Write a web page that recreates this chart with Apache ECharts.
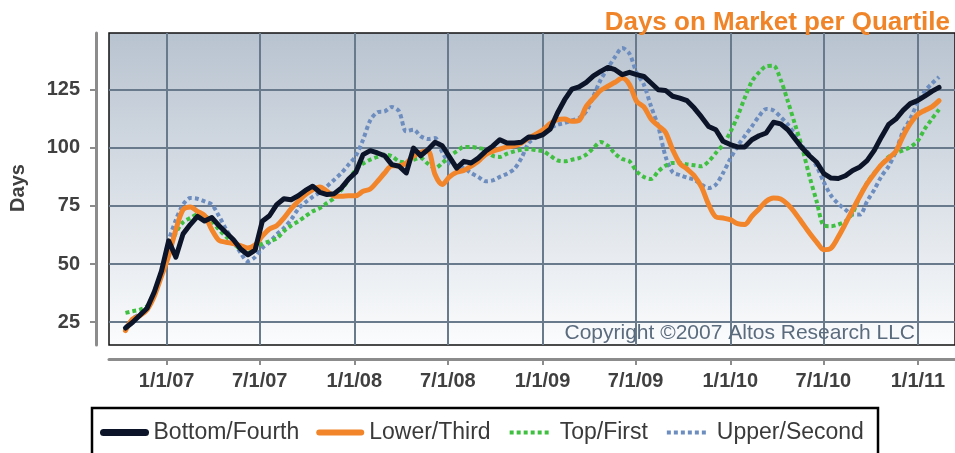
<!DOCTYPE html>
<html>
<head>
<meta charset="utf-8">
<script src="https://cdn.jsdelivr.net/npm/echarts@6/dist/echarts.min.js"></script>
<style>
html,body{margin:0;padding:0;background:#fff;}
#chart{width:955px;height:453px;}
</style>
</head>
<body>
<div id="chart"></div>
<script>
// ---- data (samples every 14 days starting 2006-10-13) ----
const seriesNames = ['Bottom/Fourth', 'Lower/Third', 'Top/First', 'Upper/Second'];
const startDate = '2006-10-13';
const stepDays = 14;

const bottomFourth = [22.5,25,28,31,38,47,60,53,63,67,70.5,68.5,70,66.5,63.5,60.5,56.5,54,56,68.4,
70.8,75.6,78.1,77.7,79.4,81.7,83.5,80.9,79.9,80.3,82.8,86.6,89.5,97.1,98.8,97.8,96.6,92.8,92.1,89.2,
99.9,96.6,99.2,102.4,100.9,96.1,91.3,94.2,93.5,95.6,98.5,100.7,103.5,102.1,102.1,102.4,104.7,104.6,105.7,108.1,
115.0,120.7,125.3,126.2,128.2,131.0,132.9,134.6,133.6,131.5,132.5,131.5,130.7,127.9,125.0,124.7,122.2,121.4,120.3,117.1,
113.3,109.2,107.8,102.8,101.4,100.4,100.4,103.5,105.2,106.4,111.0,110.3,107.8,103.8,99.9,96.6,93.8,88.9,87.0,86.8,
88.0,90.3,91.8,94.5,98.9,104.7,110.0,112.4,116.1,119.0,120.3,122.2,124.3,126];

const lowerThird = [21.4,26.4,27.8,30.4,36.2,44.8,53.6,64.8,73.4,74.6,72.7,70.9,64.8,60.2,59.4,58.8,57.9,56.9,58.2,62.0,
65.1,66.5,69.8,73.7,77.0,79.9,82.0,83.2,81.3,79.2,79.2,79.4,79.4,81.3,82.3,85.6,89.2,92.3,92.3,93.5,
96.4,98.1,98.8,88.5,84.2,87.5,89.5,90.3,92.1,94.2,97.1,98.5,99.5,100.4,100.9,102.1,104.2,105.9,107.8,110.4,
112.1,112.4,111.4,111.8,117.8,121.4,124.7,126.5,128.2,130.0,127.2,120.0,117.6,112.4,109.5,106.7,99.2,93.3,90.9,88.0,
83.2,75.6,70.3,69.8,69.1,67.4,67.0,70.6,73.7,77.0,78.4,78.0,75.6,72.0,67.7,63.4,59.5,56.2,56.9,61.7,
67.4,73.4,79.2,84.6,88.9,92.8,95.6,98.5,105.0,110.4,114.3,116.1,117.6,120.3];

const topFirst = [29.0,29.7,30.4,31.9,36.9,45.5,55.5,63.4,68.0,69.8,71.3,70.8,68.4,64.8,61.7,59.1,56.2,54.8,56.5,58.8,
59.8,61.0,64.1,66.5,68.4,70.6,72.7,74.1,76.3,78.4,82.0,86.3,90.6,93.2,94.9,96.1,97.1,96.4,94.2,93.8,
94.9,95.6,93.2,91.3,93.5,96.4,98.5,100.4,100.4,99.9,99.2,96.6,96.1,97.5,98.5,99.2,99.5,99.0,98.5,96.6,
94.6,94.2,94.9,95.6,97.1,99.9,102.5,100.9,97.5,95.2,94.2,89.9,87.5,86.6,89.9,92.3,93.5,93.5,92.9,92.5,
92.1,94.2,97.8,101.4,106.7,113.5,121.4,128.6,132.5,135.1,135.3,129.3,120.0,110.0,99.9,87.8,77.0,66.6,66.3,67.0,
68.4,72.0,79.2,84.9,89.2,92.8,96.1,97.8,98.9,100.4,102.8,108.1,112.4,116.5];

const upperSecond = [22.5,26.5,28.5,31.5,38,47,60,69,75.6,78.4,78.1,77.0,75.6,70.6,64.8,59.8,54.8,51.2,53,56.9,
59.4,62.7,65.5,69.1,73.7,76.6,78.9,80.9,83.5,86.3,89.2,92.8,96.6,103.5,111.8,115.3,115.7,117.6,115.7,107.1,
107.8,105.0,103.8,104.2,98.1,93.5,92.1,91.3,89.2,87.5,85.6,86.0,87.5,88.9,90.9,95.6,102.1,104.5,106.7,108.5,
110.0,110.7,111.8,112.8,115.7,122.2,129.3,134.3,139.1,142.9,140.5,132.2,127.2,117.8,109.2,96.4,89.5,88.3,87.2,86.3,
84.2,82.7,84.2,89.2,95.2,100.7,105.0,109.2,113.6,116.7,116.1,113.3,110.0,105.7,100.7,97.1,92.1,85.2,79.5,76.0,
73.4,71.3,71.3,77.0,82.0,87.8,92.1,98.5,107.1,112.4,119.3,124.3,127.6,130.5];

const xTickDates = ['2007-01-01','2007-07-01','2008-01-01','2008-07-01','2009-01-01','2009-07-01','2010-01-01','2010-07-01','2011-01-01'];
const xTickLabels = ['1/1/07','7/1/07','1/1/08','7/1/08','1/1/09','7/1/09','1/1/10','7/1/10','1/1/11'];
const yTicks = [25, 50, 75, 100, 125];
const xRange = ['2006-09-11', '2011-03-14'];
const yRange = [15.2, 149.4];

// ---- build ----
const parse = s => { const p = s.split('-').map(Number); return Date.UTC(p[0], p[1] - 1, p[2]); };
const t0 = parse(startDate);
const dates = bottomFourth.map((_, i) => t0 + i * stepDays * 86400000);
const xTickVals = xTickDates.map(parse);
const pair = arr => arr.map((v, i) => [dates[i], v]);

const FONT = '"Liberation Sans", Arial, Helvetica, sans-serif';
const chart = echarts.init(document.getElementById('chart'), null, {renderer: 'canvas'});

const gridLine = {show: true, lineStyle: {color: '#697a8c', width: 2}};

chart.setOption({
  animation: false,
  backgroundColor: '#ffffff',
  title: {
    text: 'Days on Market per Quartile',
    right: 0, top: 5,
    textStyle: {color: '#F08428', fontSize: 26, fontWeight: 'bold', fontFamily: FONT}
  },
  grid: {
    left: 109, top: 33, right: 0, bottom: 108,
    show: true,
    borderColor: '#111', borderWidth: 1.5,
    outerBoundsMode: 'none',
    backgroundColor: {
      type: 'linear', x: 0, y: 0, x2: 0, y2: 1,
      colorStops: [
        {offset: 0, color: '#b8c3d0'},
        {offset: 0.5, color: '#d9dfe6'},
        {offset: 1, color: '#fbfcfd'}
      ]
    }
  },
  legend: {
    left: 100, top: 421, padding: 0,
    itemWidth: 42, itemHeight: 14, itemGap: 17,
    itemStyle: {opacity: 0, borderWidth: 0},
    data: [
      {name: seriesNames[0], lineStyle: {width: 7}},
      {name: seriesNames[1], lineStyle: {width: 6}},
      {name: seriesNames[2], lineStyle: {width: 4}},
      {name: seriesNames[3], lineStyle: {width: 4}}
    ],
    textStyle: {fontSize: 23, color: '#3a3a3a', fontFamily: FONT, padding: [0, 0, 0, 3]}
  },
  xAxis: {
    type: 'value',
    min: xRange.map(parse)[0], max: xRange.map(parse)[1],
    offset: 14,
    axisLine: {show: true, onZero: false, lineStyle: {color: '#8c8c8c', width: 3}},
    axisTick: {show: true, customValues: xTickVals, length: 6, lineStyle: {color: '#8c8c8c', width: 2}},
    axisLabel: {
      customValues: xTickVals, margin: 12,
      fontSize: 20, fontWeight: 'bold', color: '#404040', fontFamily: FONT,
      formatter: v => {
        let best = 0;
        xTickVals.forEach((tv, i) => { if (Math.abs(tv - v) < Math.abs(xTickVals[best] - v)) best = i; });
        return xTickLabels[best];
      }
    },
    splitLine: gridLine
  },
  yAxis: {
    type: 'value',
    min: yRange[0], max: yRange[1],
    offset: 13,
    axisLine: {show: true, lineStyle: {color: '#8c8c8c', width: 3}},
    axisTick: {show: true, customValues: yTicks, length: 6, lineStyle: {color: '#8c8c8c', width: 2}},
    axisLabel: {customValues: yTicks, margin: 16, fontSize: 20, fontWeight: 'bold', color: '#404040', fontFamily: FONT},
    splitLine: gridLine
  },
  graphic: [
    {
      type: 'text', x: 18, y: 188, rotation: Math.PI / 2,
      style: {text: 'Days', align: 'center', verticalAlign: 'middle', fill: '#404040', font: 'bold 20px ' + FONT}
    },
    {
      type: 'text', x: 915, y: 333, z: 10,
      style: {text: 'Copyright \u00a92007 Altos Research LLC', align: 'right', verticalAlign: 'middle', fill: '#5b6b7e', font: '21px ' + FONT}
    },
    {
      type: 'rect', z: -1,
      shape: {x: 92, y: 408, width: 786, height: 60},
      style: {fill: '#ffffff', stroke: '#000', lineWidth: 2.5}
    }
  ],
  series: [
    {
      name: seriesNames[3], type: 'line', z: 1, data: pair(upperSecond), symbol: 'none', smooth: 0.3,
      lineStyle: {color: '#6d8dbf', width: 4, type: [4, 3], cap: 'butt'}, itemStyle: {color: '#6d8dbf'}
    },
    {
      name: seriesNames[2], type: 'line', z: 2, data: pair(topFirst), symbol: 'none', smooth: 0.3,
      lineStyle: {color: '#40c040', width: 4, type: [4, 3], cap: 'butt'}, itemStyle: {color: '#40c040'}
    },
    {
      name: seriesNames[1], type: 'line', z: 3, data: pair(lowerThird), symbol: 'none', smooth: 0.3,
      lineStyle: {color: '#f2842a', width: 5, cap: 'round', join: 'round'}, itemStyle: {color: '#f2842a'}
    },
    {
      name: seriesNames[0], type: 'line', z: 4, data: pair(bottomFourth), symbol: 'none',
      lineStyle: {color: '#0b1428', width: 5, cap: 'round', join: 'round'}, itemStyle: {color: '#0b1428'}
    }
  ]
});
</script>
</body>
</html>
